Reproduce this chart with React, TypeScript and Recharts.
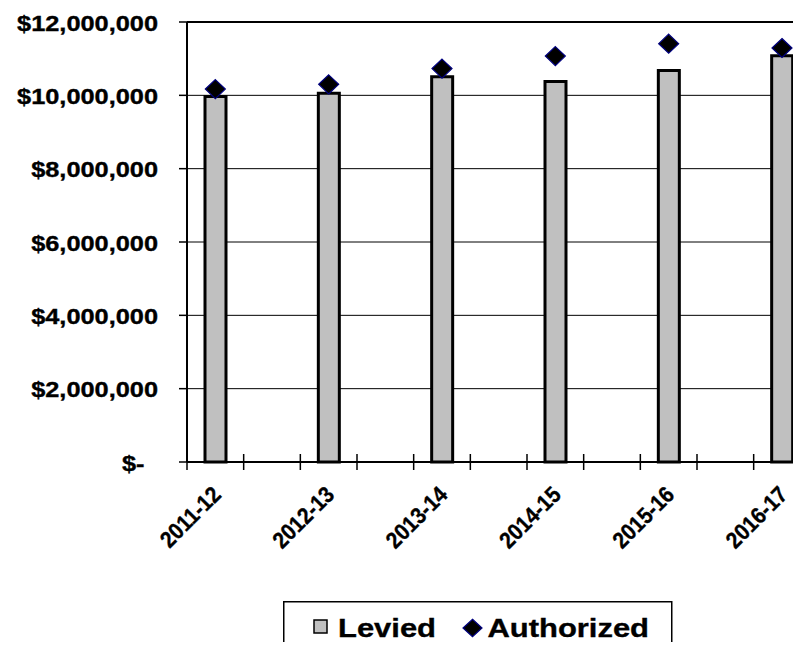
import React from 'react';
import {
  ComposedChart,
  Bar,
  Line,
  XAxis,
  YAxis,
  CartesianGrid,
  Legend,
  ReferenceLine,
} from 'recharts';

// Fiscal years shown on the category axis
const categories = ['2011-12', '2012-13', '2013-14', '2014-15', '2015-16', '2016-17'];
// Amount actually levied each year
const levied = [9968000, 10060000, 10510000, 10380000, 10680000, 11080000];
// Amount authorized each year
const authorized = [10170000, 10300000, 10730000, 11070000, 11410000, 11290000];
// Value axis ticks
const yTicks = [0, 2000000, 4000000, 6000000, 8000000, 10000000, 12000000];

// Each fiscal year takes one slot followed by an empty spacer slot.
const table = categories.flatMap((c, i) => [
  { slot: c, levied: levied[i], authorized: authorized[i] },
  { slot: `gap-${c}`, levied: null, authorized: null },
]);

const FONT = '"Liberation Sans", Arial, Helvetica, sans-serif';
const STRETCH = 1.19;

const CHART_W = 869;
const CHART_H = 680;
const MARGIN = { top: 14, right: 10, bottom: 17, left: 9 };
const Y_AXIS_W = 170;
const PLOT_W = CHART_W - MARGIN.left - MARGIN.right - Y_AXIS_W;
const SLOT_W = PLOT_W / table.length;

const fmtMoney = (v: number) => (v === 0 ? '$-' : '$' + v.toLocaleString('en-US'));

const YTick = (props: any) => {
  const { x, y, payload } = props;
  const v = payload.value as number;
  const endX = v === 0 ? x - 34.5 : x - 21;
  return (
    <text
      transform={`translate(${endX},${y + 8.8}) scale(${STRETCH},1)`}
      textAnchor="end"
      fontFamily={FONT}
      fontWeight="bold"
      fontSize={21.3}
      fill="#000"
      stroke="#000"
      strokeWidth={0.35}
    >
      {fmtMoney(v)}
    </text>
  );
};

const XTick = (props: any) => {
  const { x, y, payload } = props;
  const left = x - SLOT_W / 2;
  const isLabel = categories.includes(payload.value);
  return (
    <g>
      <line x1={left} x2={left} y1={y - 8} y2={y + 8} stroke="#000" strokeWidth={1.5} />
      {isLabel ? (
        <text
          transform={`translate(${x + 7},${y + 34}) rotate(-45) scale(0.9,1)`}
          textAnchor="end"
          fontFamily={FONT}
          fontWeight="bold"
          fontSize={23}
          fill="#000"
          stroke="#000"
          strokeWidth={0.35}
        >
          {payload.value}
        </text>
      ) : null}
    </g>
  );
};

const Diamond = (props: any) => {
  const { cx, cy, value, index } = props;
  if (value == null || cy == null || cx == null) return <g key={`d-${index}`} />;
  const hw = 10;
  const hh = 9.5;
  return (
    <path
      key={`d-${index}`}
      d={`M${cx},${cy - hh} L${cx + hw},${cy} L${cx},${cy + hh} L${cx - hw},${cy} Z`}
      fill="#000"
      stroke="#000080"
      strokeWidth={1.2}
    />
  );
};

const LegendBox = () => (
  <svg width={390} height={70} style={{ display: 'block' }}>
    <rect x={0.75} y={0.75} width={388} height={100} fill="#fff" stroke="#000" strokeWidth={1.5} />
    <rect x={31} y={19} width={13} height={13} fill="#C0C0C0" stroke="#000" strokeWidth={1.5} />
    <text
      transform={`translate(55,35.7) scale(${STRETCH},1)`}
      fontFamily={FONT}
      fontWeight="bold"
      fontSize={26}
      fill="#000"
      stroke="#000"
      strokeWidth={0.35}
    >
      Levied
    </text>
    <path d="M189.5,18.3 L199,27 L189.5,35.7 L180,27 Z" fill="#000" stroke="#000080" strokeWidth={1.2} />
    <text
      transform={`translate(204.5,35.7) scale(${STRETCH},1)`}
      fontFamily={FONT}
      fontWeight="bold"
      fontSize={26}
      fill="#000"
      stroke="#000"
      strokeWidth={0.35}
    >
      Authorized
    </text>
  </svg>
);

export default function App() {
  return (
    <div style={{ width: 793, height: 642, marginBottom: -8, overflow: 'hidden', position: 'relative' }}>
      <ComposedChart width={CHART_W} height={CHART_H} data={table} margin={MARGIN}>
        <CartesianGrid horizontal vertical={false} stroke="#000" strokeWidth={1} />
        <ReferenceLine y={12000000} stroke="#000" strokeWidth={2} />
        <XAxis
          dataKey="slot"
          interval={0}
          tickLine={false}
          tickSize={0}
          tickMargin={0}
          height={139}
          axisLine={{ stroke: '#000', strokeWidth: 2 }}
          tick={<XTick />}
        />
        <YAxis
          type="number"
          domain={[0, 12000000]}
          ticks={yTicks}
          interval={0}
          width={Y_AXIS_W}
          tickSize={8}
          tickMargin={0}
          tickLine={{ stroke: '#000', strokeWidth: 1.5 }}
          axisLine={{ stroke: '#000', strokeWidth: 2 }}
          tick={<YTick />}
        />
        <Bar
          dataKey="levied"
          name="Levied"
          barSize={21}
          fill="#C0C0C0"
          stroke="#000"
          strokeWidth={3}
          isAnimationActive={false}
        />
        <Line
          dataKey="authorized"
          name="Authorized"
          stroke="none"
          dot={<Diamond />}
          activeDot={false}
          isAnimationActive={false}
        />
        <Legend
          verticalAlign="bottom"
          content={() => <LegendBox />}
          wrapperStyle={{ left: 275, width: 390, bottom: 17 }}
        />
      </ComposedChart>
    </div>
  );
}
